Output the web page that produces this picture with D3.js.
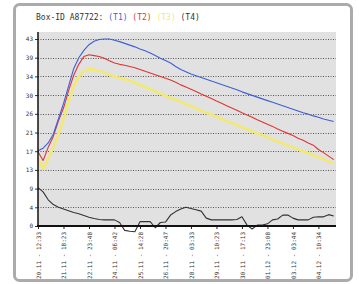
<!DOCTYPE html>
<html><head><meta charset="utf-8">
<script src="https://cdn.jsdelivr.net/npm/d3@7"></script>
<style>body{margin:0;background:#fff}svg{display:block}</style>
</head><body>
<script>
const xUnits = d3.range(0, 117, 2);
const t1 = [17.2,17.8,19,21,24.5,28,32,36,38.5,40.2,41.5,42.3,42.7,42.8,42.8,42.5,42.2,41.8,41.4,41.0,40.5,40.1,39.6,39.0,38.4,37.9,37.3,36.5,35.8,35.3,34.8,34.4,34.0,33.6,33.2,32.8,32.4,32.0,31.6,31.2,30.7,30.3,29.9,29.5,29.1,28.7,28.3,27.9,27.5,27.1,26.7,26.3,25.9,25.6,25.2,24.9,24.5,24.2,23.9];
const t2 = [17.0,15,18,20.5,24,27,31,34.5,37,38.8,39.2,39.0,38.8,38.4,37.8,37.3,37.0,36.8,36.5,36.2,35.8,35.4,35.0,34.6,34.2,33.8,33.4,32.9,32.3,31.8,31.3,30.8,30.2,29.7,29.2,28.6,28.1,27.5,27.0,26.5,25.9,25.4,24.9,24.3,23.8,23.3,22.8,22.2,21.7,21.2,20.7,20.1,19.6,19.0,18.5,17.5,16.8,16.0,15.2];
const t3 = [15.5,13,15.5,18,21,24.5,28.5,32,34.2,35.5,35.9,35.8,35.5,35.1,34.6,34.2,33.9,33.6,33.3,32.8,32.3,31.8,31.3,30.8,30.3,29.8,29.3,28.9,28.4,27.9,27.4,26.9,26.4,25.9,25.5,25.0,24.5,24.0,23.6,23.1,22.6,22.2,21.7,21.2,20.8,20.3,19.8,19.4,18.9,18.4,18.0,17.5,17.1,16.7,16.2,15.8,15.3,14.8,14.3];
const t4 = [8.8,7.8,6.0,4.9,4.3,3.9,3.5,3.1,2.8,2.4,2.0,1.7,1.5,1.4,1.4,1.4,0.8,-1.0,-1.2,-1.3,1.0,1.0,1.0,-0.4,0.8,0.9,2.5,3.3,3.9,4.3,4.0,3.7,3.4,1.8,1.4,1.4,1.4,1.4,1.4,1.5,2.1,0.2,-0.7,0.2,0.2,0.5,1.4,1.6,2.5,2.5,1.8,1.4,1.4,1.4,2.0,2.1,2.1,2.6,2.3];
const yLabels = ["0","4","9","13","17","21","26","30","34","39","43"];
const xLabels = ["20.11 - 12:33","21.11 - 18:23","22.11 - 23:48","24.11 - 06:42","25.11 - 14:28","26.11 - 20:47","28.11 - 03:33","29.11 - 10:23","30.11 - 17:13","01.12 - 23:08","03.12 - 03:44","04.12 - 10:34"];
const seriesNames = ["(T1)","(T2)","(T3)","(T4)"];
const seriesColors = ["#3f5fd6","#e03434","#f2ea70","#333333"];
const yMax = 42.8;

const W = 359, H = 284;
const svg = d3.select("body").append("svg").attr("width", W).attr("height", H);
svg.append("rect").attr("width", W).attr("height", H).attr("fill", "#fff");
svg.append("rect").attr("x", 14.5).attr("y", 4.5).attr("width", 337).attr("height", 276)
  .attr("rx", 5).attr("fill", "#fff").attr("stroke", "#ababab").attr("stroke-width", 3);

const x = d3.scaleLinear().domain([0, 116.5]).range([38, 335]);
const y = d3.scaleLinear().domain([0, yMax]).range([226, 39]);

svg.append("rect").attr("x", 38).attr("y", 32).attr("width", 298).attr("height", 194).attr("fill", "#e1e1e1");

const yTickVals = yLabels.map((d, i) => yMax * i / 10);
svg.append("g").selectAll("line").data(yTickVals.slice(1)).join("line")
  .attr("x1", 38).attr("x2", 336).attr("y1", d => Math.round(y(d)) + 0.5).attr("y2", d => Math.round(y(d)) + 0.5)
  .attr("stroke", "#555").attr("stroke-width", 1).attr("stroke-dasharray", "1,1.5");

const yAxis = svg.append("g").attr("transform", "translate(38,0)")
  .call(d3.axisLeft(y).tickValues(yTickVals).tickFormat((d, i) => yLabels[i]).tickSize(3).tickPadding(2));
yAxis.select(".domain").remove();
yAxis.selectAll("line").attr("stroke", "#333");
yAxis.selectAll("text").attr("font-family", "DejaVu Sans Mono").attr("font-size", 6).attr("fill", "#333");

const xTickVals = xLabels.map((d, i) => i * 10);
const xAxis = svg.append("g").attr("transform", "translate(0,226)")
  .call(d3.axisBottom(x).tickValues(xTickVals).tickFormat((d, i) => xLabels[i]).tickSize(3));
xAxis.select(".domain").remove();
xAxis.selectAll("line").attr("stroke", "#222");
xAxis.selectAll("text").attr("transform", "rotate(-90)").attr("x", -6).attr("y", 0).attr("dy", "0.35em")
  .style("text-anchor", "end").attr("font-family", "DejaVu Sans Mono").attr("font-size", 6).attr("fill", "#333");

const line = d3.line().x((d, i) => x(xUnits[i])).y(d => y(d));
const draws = [[t3, 2, 2.6], [t2, 1, 1.1], [t1, 0, 1.1], [t4, 3, 1.1]];
draws.forEach(([data, ci, w]) => {
  svg.append("path").datum(data).attr("d", line).attr("fill", "none")
    .attr("stroke", seriesColors[ci]).attr("stroke-width", w).attr("stroke-linejoin", "round");
});

svg.append("line").attr("x1", 38).attr("x2", 38).attr("y1", 32).attr("y2", 227).attr("stroke", "#111").attr("stroke-width", 1.5);
svg.append("line").attr("x1", 37).attr("x2", 336).attr("y1", 226).attr("y2", 226).attr("stroke", "#111").attr("stroke-width", 2);

const title = svg.append("text").attr("x", 36).attr("y", 20)
  .attr("font-family", "DejaVu Sans Mono").attr("font-size", 8).attr("fill", "#333");
title.append("tspan").text("Box-ID A87722: ");
seriesNames.forEach((n, i) => {
  title.append("tspan").attr("fill", seriesColors[i]).text(n);
  if (i < 3) title.append("tspan").text(" ");
});
</script>
</body></html>
